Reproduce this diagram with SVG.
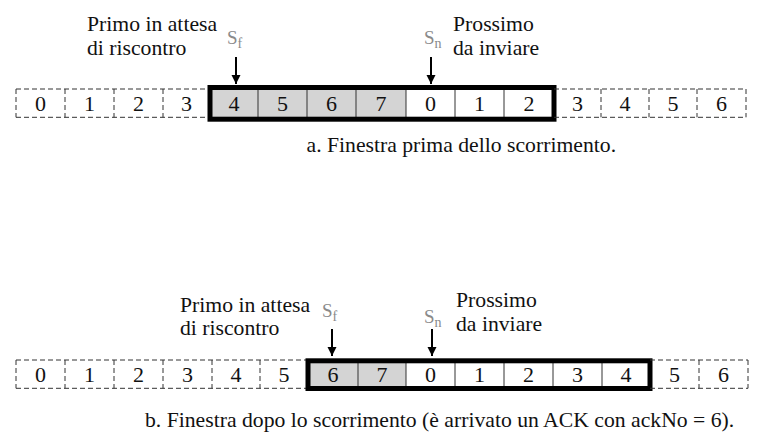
<svg xmlns="http://www.w3.org/2000/svg" width="768" height="447" viewBox="0 0 768 447">
  <style>
    text { font-family: "Liberation Serif", "Times New Roman", serif; fill: #111; }
    .lbl { font-size: 21.7px; }
    .num { font-size: 22px; text-anchor: middle; }
    .cap { font-size: 21.7px; }
    .s { font-size: 19px; fill: #8a8a8a; }
    .sub { font-size: 14px; fill: #8a8a8a; }
    .dash { fill: none; stroke: #333; stroke-width: 1; stroke-dasharray: 5 3; }
    .sep { fill: none; stroke: #333; stroke-width: 1; }
    .thick { fill: none; stroke: #000; stroke-width: 5; }
    .gray { fill: #d4d4d4; }
    .white { fill: #ffffff; }
    .arrow { stroke: #000; stroke-width: 2; fill: none; marker-end: url(#ah); }
  </style>
  <defs>
    <marker id="ah" markerUnits="userSpaceOnUse" markerWidth="10" markerHeight="11" refX="9" refY="5" orient="auto">
      <path d="M0,0 L9,4.5 L0,9 Z" transform="translate(0,0.5)" fill="#000"/>
    </marker>
  </defs>
  <rect width="768" height="447" fill="#ffffff"/>

  <!-- a. row -->
  <g id="row-a">
    <g id="row-a-left" class="dashed-cells">
      <path class="dash" d="M16,89 H210 M16,117.3 H210 M16,89 V117.3 M65,89 V117.3 M114,89 V117.3 M163,89 V117.3"/>
      <text class="num" x="40.5" y="110.5">0</text>
      <text class="num" x="89.5" y="110.5">1</text>
      <text class="num" x="138.5" y="110.5">2</text>
      <text class="num" x="186.5" y="110.5">3</text>
    </g>
    <g id="window-a">
      <rect class="gray" x="210" y="87.5" width="196" height="31.7"/>
      <rect class="white" x="406" y="87.5" width="148" height="31.7"/>
      <path class="sep" d="M258,87.5 V119.2 M307,87.5 V119.2 M356,87.5 V119.2 M406,87.5 V119.2 M455,87.5 V119.2 M504,87.5 V119.2"/>
      <rect class="thick" x="210" y="87.5" width="344" height="31.7"/>
      <text class="num" x="234" y="110.5">4</text>
      <text class="num" x="282.5" y="110.5">5</text>
      <text class="num" x="331.5" y="110.5">6</text>
      <text class="num" x="381" y="110.5">7</text>
      <text class="num" x="430.5" y="110.5">0</text>
      <text class="num" x="479.5" y="110.5">1</text>
      <text class="num" x="529" y="110.5">2</text>
    </g>
    <g id="row-a-right">
      <path class="dash" d="M554,89 H746 M554,117.3 H746 M746,89 V117.3 M601,89 V117.3 M649,89 V117.3 M697,89 V117.3"/>
      <text class="num" x="577.5" y="110.5">3</text>
      <text class="num" x="625" y="110.5">4</text>
      <text class="num" x="673" y="110.5">5</text>
      <text class="num" x="721.5" y="110.5">6</text>
    </g>
  </g>

  <g id="label-sf-a">
    <text class="lbl" x="87" y="31">Primo in attesa</text>
    <text class="lbl" x="87" y="55">di riscontro</text>
    <text x="227" y="44"><tspan class="s">S</tspan><tspan class="sub" dy="4">f</tspan></text>
  </g>
  <g id="label-sn-a">
    <text x="424" y="43.5"><tspan class="s">S</tspan><tspan class="sub" dy="4">n</tspan></text>
    <text class="lbl" x="453" y="30.5">Prossimo</text>
    <text class="lbl" x="453" y="55">da inviare</text>
  </g>
  <g id="caption-a">
    <text class="cap" x="306.5" y="152">a. Finestra prima dello scorrimento.</text>
  </g>

  <!-- b. row -->
  <g id="row-b">
    <g id="row-b-left">
      <path class="dash" d="M16,360 H308 M16,388.3 H308 M16,360 V388.3 M65,360 V388.3 M114,360 V388.3 M163,360 V388.3 M212,360 V388.3 M260,360 V388.3"/>
      <text class="num" x="40.5" y="381.5">0</text>
      <text class="num" x="89.5" y="381.5">1</text>
      <text class="num" x="138.5" y="381.5">2</text>
      <text class="num" x="187.5" y="381.5">3</text>
      <text class="num" x="236" y="381.5">4</text>
      <text class="num" x="284" y="381.5">5</text>
    </g>
    <g id="window-b">
      <rect class="gray" x="308" y="360.8" width="98" height="27.7"/>
      <rect class="white" x="406" y="360.8" width="244" height="27.7"/>
      <path class="sep" d="M358,360.8 V388.5 M406,360.8 V388.5 M455,360.8 V388.5 M504,360.8 V388.5 M553,360.8 V388.5 M602,360.8 V388.5"/>
      <rect class="thick" x="308" y="360.8" width="342" height="27.7"/>
      <text class="num" x="333" y="381.5">6</text>
      <text class="num" x="382" y="381.5">7</text>
      <text class="num" x="430.5" y="381.5">0</text>
      <text class="num" x="479.5" y="381.5">1</text>
      <text class="num" x="528.5" y="381.5">2</text>
      <text class="num" x="577.5" y="381.5">3</text>
      <text class="num" x="626" y="381.5">4</text>
    </g>
    <g id="row-b-right">
      <path class="dash" d="M650,360 H748 M650,388.3 H748 M748,360 V388.3 M699,360 V388.3"/>
      <text class="num" x="674.5" y="381.5">5</text>
      <text class="num" x="723.5" y="381.5">6</text>
    </g>
  </g>

  <g id="label-sf-b">
    <text class="lbl" x="180" y="311.5">Primo in attesa</text>
    <text class="lbl" x="180" y="335">di riscontro</text>
    <text x="322" y="317"><tspan class="s">S</tspan><tspan class="sub" dy="4">f</tspan></text>
  </g>
  <g id="label-sn-b">
    <text x="424" y="322.5"><tspan class="s">S</tspan><tspan class="sub" dy="4">n</tspan></text>
    <text class="lbl" x="456" y="307">Prossimo</text>
    <text class="lbl" x="456" y="331">da inviare</text>
  </g>
  <g id="caption-b">
    <text class="cap" x="145" y="427">b. Finestra dopo lo scorrimento (è arrivato un ACK con ackNo = 6).</text>
  </g>

  <g id="connectors">
    <line class="arrow" x1="236" y1="57" x2="236" y2="84"/>
    <line class="arrow" x1="431" y1="57" x2="431" y2="84"/>
    <line class="arrow" x1="332" y1="329" x2="332" y2="356"/>
    <line class="arrow" x1="432" y1="329" x2="432" y2="356"/>
  </g>
</svg>
